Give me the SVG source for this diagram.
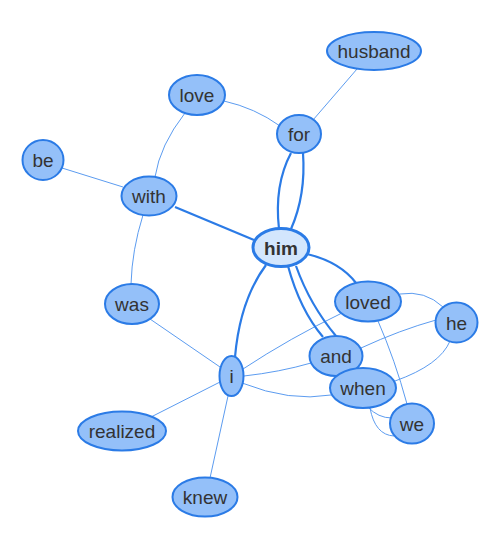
<svg xmlns="http://www.w3.org/2000/svg" width="500" height="550" viewBox="0 0 500 550">
<style>
.e{fill:none;stroke:#5c9cf0;stroke-width:1}
.t{fill:none;stroke:#2b7be6;stroke-width:2.2}
.n ellipse{fill:#94c0f9;stroke:#2b7be6;stroke-width:2}
.n text{font-family:"Liberation Sans",Arial,sans-serif;font-size:19px;fill:#333;text-anchor:middle}
#n-him ellipse{fill:#d3e6fd;stroke-width:3}
#n-him text{font-weight:bold}
</style>
<rect width="500" height="550" fill="#fff"/>
<g id="edges">
<path class="e" d="M357,69 L313,120"/>
<path class="e" d="M224,101 Q255,108 280,126"/>
<path class="e" d="M185,113 Q160,145 155,177"/>
<path class="e" d="M62,168 L123,187"/>
<path class="e" d="M143,215 Q132,250 131,284"/>
<path class="e" d="M150,319 L220,367"/>
<path class="e" d="M151,417 L220,382"/>
<path class="e" d="M210,478 L228,396"/>
<path class="e" d="M243,369 Q290,338 342,313"/>
<path class="e" d="M244,376 Q280,372 311,363"/>
<path class="e" d="M242,383 Q290,402 331,395"/>
<path class="e" d="M400,294 Q425,290 443,307"/>
<path class="e" d="M378,321 Q395,360 407,404"/>
<path class="e" d="M361,348 Q400,330 436,320"/>
<path class="e" d="M395,381 Q440,365 450,341"/>
<path class="e" d="M368,407 Q378,418 392,418"/>
<path class="e" d="M370,408 Q375,435 394,436"/>
<path class="t" d="M279,229 Q274,185 291,153"/>
<path class="t" d="M291,229 Q306,195 303,153"/>
<path class="t" d="M175,207 L254,240"/>
<path class="t" d="M266,265 Q240,300 235,357"/>
<path class="t" d="M288,266 Q300,310 323,337"/>
<path class="t" d="M296,266 Q310,305 336,336"/>
<path class="t" d="M307,254 Q340,262 356,283"/>
</g>
<g id="n-husband" class="n"><ellipse cx="374" cy="51" rx="47" ry="19"/><text x="374" y="58">husband</text></g>
<g id="n-love" class="n"><ellipse cx="197" cy="95" rx="28" ry="20"/><text x="197" y="102">love</text></g>
<g id="n-for" class="n"><ellipse cx="299" cy="134" rx="22" ry="19"/><text x="299" y="141">for</text></g>
<g id="n-be" class="n"><ellipse cx="43" cy="160" rx="20.5" ry="20"/><text x="43" y="167">be</text></g>
<g id="n-with" class="n"><ellipse cx="149" cy="196" rx="27.5" ry="19.5"/><text x="149" y="203">with</text></g>
<g id="n-him" class="n"><ellipse cx="281" cy="247.5" rx="28" ry="19"/><text x="281" y="254.5">him</text></g>
<g id="n-was" class="n"><ellipse cx="132" cy="304" rx="27" ry="20"/><text x="132" y="311">was</text></g>
<g id="n-loved" class="n"><ellipse cx="368" cy="301.5" rx="33" ry="20"/><text x="368" y="308.5">loved</text></g>
<g id="n-he" class="n"><ellipse cx="456.5" cy="322.5" rx="21" ry="20"/><text x="456.5" y="329.5">he</text></g>
<g id="n-and" class="n"><ellipse cx="336" cy="356" rx="26.5" ry="20"/><text x="336" y="363">and</text></g>
<g id="n-when" class="n"><ellipse cx="363" cy="388" rx="33" ry="20"/><text x="363" y="395">when</text></g>
<g id="n-i" class="n"><ellipse cx="231.5" cy="376" rx="12" ry="20"/><text x="231.5" y="383">i</text></g>
<g id="n-we" class="n"><ellipse cx="412" cy="423.5" rx="22" ry="20"/><text x="412" y="430.5">we</text></g>
<g id="n-realized" class="n"><ellipse cx="122" cy="431" rx="44" ry="19.5"/><text x="122" y="438">realized</text></g>
<g id="n-knew" class="n"><ellipse cx="205" cy="497" rx="32.5" ry="19.5"/><text x="205" y="504">knew</text></g>
</svg>
